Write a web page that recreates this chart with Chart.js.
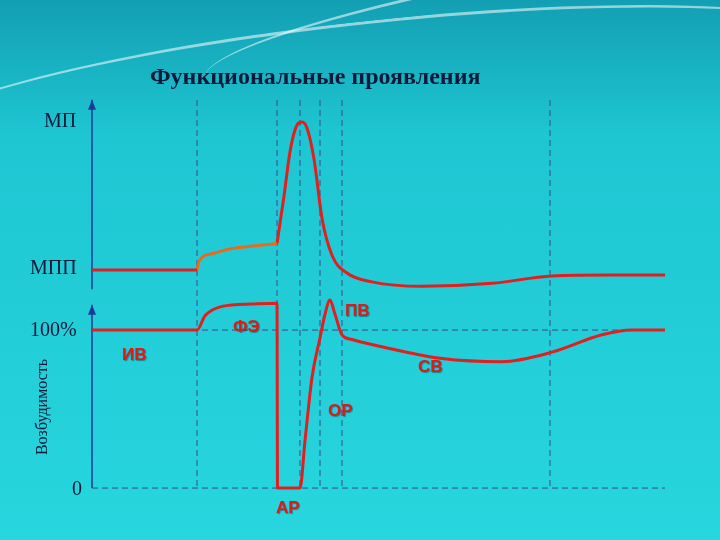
<!DOCTYPE html>
<html lang="ru">
<head>
<meta charset="UTF-8">
<title>Функциональные проявления</title>
<style>
  body { margin:0; width:720px; height:540px; overflow:hidden; position:relative;
    background: linear-gradient(180deg, #139fb3 0%, #1ec6d2 25%, #27d6de 100%); font-family: "Liberation Serif", serif; }
  .swoosh { position:absolute; border-top:3px solid rgba(255,255,255,0.55); border-radius:50%; }
  .lbl { position:absolute; color:#0d1a3a; font-size:20px; }
  .red { position:absolute; color:#e01818; font:bold 17px "Liberation Sans", sans-serif; text-shadow:1px 1px 1px rgba(0,0,0,0.35); }
  canvas { position:absolute; left:0; top:0; }
</style>
</head>
<body>
<div class="swoosh" style="left:-120px;top:20px;width:1000px;height:160px;transform:rotate(-6deg);"></div>
<div class="swoosh" style="left:200px;top:-30px;width:700px;height:90px;transform:rotate(-10deg);"></div>
<canvas id="chart" width="720" height="540"></canvas>
<div class="lbl" style="left:150px;top:63px;font-weight:bold;font-size:24px;">Функциональные проявления</div>
<div class="lbl" style="left:44px;top:109px;">МП</div>
<div class="lbl" style="left:30px;top:256px;">МПП</div>
<div class="lbl" style="left:30px;top:318px;">100%</div>
<div class="lbl" style="left:72px;top:477px;">0</div>
<div class="lbl" style="left:-6px;top:398px;font-size:16px;transform:rotate(-90deg);">Возбудимость</div>
<div class="red" style="left:233px;top:317px;">ФЭ</div>
<div class="red" style="left:345px;top:301px;">ПВ</div>
<div class="red" style="left:122px;top:345px;">ИВ</div>
<div class="red" style="left:418px;top:357px;">СВ</div>
<div class="red" style="left:328px;top:401px;">ОР</div>
<div class="red" style="left:276px;top:498px;">АР</div>
<script src="https://cdn.jsdelivr.net/npm/chart.js"></script>
<script>
// membrane potential, mV
const restT = [0, 105]
const restMP = [-70, -70]
const localT = [105, 107, 120, 140, 165, 185]
const localMP = [-70, -64, -59, -55.5, -53.5, -52]
const spikeT = [185, 192, 198, 205, 210, 215, 222, 230, 240, 255, 280, 330, 400, 460, 520, 573]
const spikeMP = [-52, -20, 10, 28, 30, 26, 5, -35, -60, -72, -78, -81, -79, -74, -73.4, -73.4]
// excitability, %
const excT = [0, 105, 113, 130, 160, 185, 185.5, 208, 213, 220, 228, 233, 238, 243, 250, 260, 300, 350, 410, 460, 510, 540, 573]
const excV = [100, 100, 109, 115, 116.5, 117, 0, 0, 30, 70, 95, 110, 119, 110, 97, 94, 88, 82, 80, 86, 97, 100, 100]
const phaseLines = [105, 185, 208, 228, 250, 458]

const pts = (xs, ys) => xs.map((x, i) => ({ x: x, y: ys[i] }))

const guides = {
  id: 'guides',
  beforeDatasetsDraw(chart) {
    const c = chart.ctx, x = chart.scales.x, m = chart.scales.yMP, e = chart.scales.yExc
    c.save()
    c.strokeStyle = '#3a4a8a'; c.lineWidth = 1; c.setLineDash([6, 4])
    phaseLines.forEach(t => {
      c.beginPath(); c.moveTo(x.getPixelForValue(t), 100); c.lineTo(x.getPixelForValue(t), 490); c.stroke()
    })
    ;[0, 100].forEach(v => {
      c.beginPath(); c.moveTo(x.getPixelForValue(0), e.getPixelForValue(v)); c.lineTo(x.getPixelForValue(573), e.getPixelForValue(v)); c.stroke()
    })
    c.setLineDash([])
    c.strokeStyle = '#1a3a9a'; c.fillStyle = '#1a3a9a'; c.lineWidth = 1.5
    const ax = x.getPixelForValue(0)
    const arrow = (y0, y1) => {
      c.beginPath(); c.moveTo(ax, y0); c.lineTo(ax, y1); c.stroke()
      c.beginPath(); c.moveTo(ax - 4, y1 + 10); c.lineTo(ax, y1); c.lineTo(ax + 4, y1 + 10); c.fill()
    }
    arrow(m.getPixelForValue(-83), m.getPixelForValue(45))
    arrow(e.getPixelForValue(0), e.getPixelForValue(116))
    c.restore()
  }
}

const line = (data, color, axis) => ({
  data: data, borderColor: color, borderWidth: 3, pointRadius: 0, cubicInterpolationMode: 'monotone', yAxisID: axis, fill: false
})

new Chart(document.getElementById('chart'), {
  type: 'line',
  data: {
    datasets: [
      line(pts(restT, restMP), '#e02020', 'yMP'),
      line(pts(localT, localMP), '#ea6a1c', 'yMP'),
      line(pts(spikeT, spikeMP), '#e02020', 'yMP'),
      line(pts(excT, excV), '#e02020', 'yExc')
    ]
  },
  options: {
    responsive: false, animation: false,
    layout: { padding: { left: 92, right: 55, top: 100, bottom: 45 } },
    plugins: { legend: { display: false }, tooltip: { enabled: false } },
    scales: {
      x: { type: 'linear', min: 0, max: 573, display: false },
      yMP: { min: -222, max: 44.9, display: false },
      yExc: { min: -4.4, max: 245.6, display: false }
    }
  },
  plugins: [guides]
})
</script>
</body>
</html>
